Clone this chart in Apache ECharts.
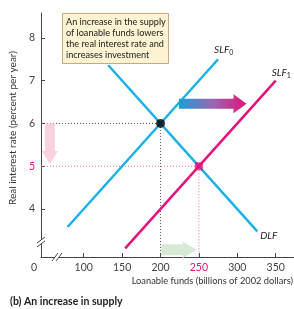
<!DOCTYPE html>
<html>
<head>
<meta charset="utf-8">
<script src="https://cdn.jsdelivr.net/npm/echarts@6/dist/echarts.min.js"></script>
<style>
  html, body { margin: 0; padding: 0; background: #fff; }
  #chart { width: 294px; height: 309px; }
</style>
</head>
<body>
<div id="chart"></div>
<script>
// axis ranges (the axis is broken near the origin)
var xMin = 44.4, xMax = 373.8;
var yMin = 2.88, yMax = 8.58;
var xTicks = [100, 150, 200, 250, 300, 350];
var yTicks = [4, 5, 6, 7, 8];

// curves: [quantity, rate] end points
var slf0X = [79, 275], slf0Y = [3.58, 7.5];
var slf1X = [154, 350], slf1Y = [3.08, 7.0];
var dlfX = [132, 326], dlfY = [7.36, 3.48];

// equilibrium before and after
var eq0 = [200, 6];
var eq1 = [250, 5];

var font = 'Lato, "Open Sans", sans-serif';
var blue = '#1bb0e6', magenta = '#e2127a', pinkDot = '#f06aa8';

function pts(xs, ys) {
    return xs.map(function (x, i) { return [x, ys[i]]; });
}

var chart = echarts.init(document.getElementById('chart'));

var option = {
    animation: false,
    title: {
        text: '(b) An increase in supply',
        left: 10, top: 296, padding: 0,
        textStyle: { fontFamily: font, fontSize: 10.5, fontWeight: 'bold', color: '#222' }
    },
    grid: { left: 41, top: 13, right: 0, bottom: 52 },
    xAxis: {
        type: 'value', min: xMin, max: xMax,
        splitLine: { show: false },
        axisLine: { lineStyle: { color: '#444', width: 1 } },
        axisTick: { inside: true, length: 4, customValues: xTicks, lineStyle: { color: '#444' } },
        axisLabel: {
            customValues: [xMin].concat(xTicks),
            margin: 5,
            fontFamily: font, fontSize: 10.5, color: '#444',
            formatter: function (v) {
                if (v < 50) return '{z|0}';
                if (v === eq1[0]) return '{p|' + v + '}';
                return v;
            },
            rich: {
                z: { fontFamily: font, fontSize: 10.5, color: '#444', padding: [0, 14, 0, 0] },
                p: { fontFamily: font, fontSize: 10.5, color: magenta }
            }
        }
    },
    yAxis: {
        type: 'value', min: yMin, max: yMax,
        splitLine: { show: false },
        axisLine: { show: true, lineStyle: { color: '#444', width: 1 } },
        axisTick: { show: true, inside: true, length: 4, customValues: yTicks, lineStyle: { color: '#444' } },
        axisLabel: {
            customValues: yTicks,
            margin: 6,
            fontFamily: font, fontSize: 10.5, color: '#444',
            formatter: function (v) {
                return v === eq1[1] ? '{p|' + v + '}' : v;
            },
            rich: { p: { fontFamily: font, fontSize: 10.5, color: magenta } }
        }
    },
    series: [
        {
            name: 'eq0 guide', type: 'line', symbol: 'none', z: 1,
            data: [[xMin, eq0[1]], eq0, [eq0[0], yMin]],
            lineStyle: { color: '#555', width: 1, type: [1, 2] }
        },
        {
            name: 'eq1 guide', type: 'line', symbol: 'none', z: 1,
            data: [[xMin, eq1[1]], eq1, [eq1[0], yMin]],
            lineStyle: { color: pinkDot, width: 1, type: [1, 2] }
        },
        {
            name: 'SLF0', type: 'line', symbol: 'none', z: 3,
            data: pts(slf0X, slf0Y),
            lineStyle: { color: blue, width: 2.5 }
        },
        {
            name: 'DLF', type: 'line', symbol: 'none', z: 3,
            data: pts(dlfX, dlfY),
            lineStyle: { color: blue, width: 2.5 }
        },
        {
            name: 'SLF1', type: 'line', symbol: 'none', z: 3,
            data: pts(slf1X, slf1Y),
            lineStyle: { color: magenta, width: 2.5 }
        },
        {
            name: 'eq0', type: 'scatter', symbol: 'circle', symbolSize: 9, z: 5,
            data: [eq0], itemStyle: { color: '#000' }
        },
        {
            name: 'eq1', type: 'scatter', symbol: 'rect', symbolSize: 8, z: 5,
            data: [eq1], itemStyle: { color: magenta }
        }
    ]
};
chart.setOption(option);

// annotations placed from data coordinates
function px(p) { return chart.convertToPixel({ gridIndex: 0 }, p); }

// arrow polygon from a to b (pixels)
function arrow(a, b, shaftW, headW, headL) {
    var dx = b[0] - a[0], dy = b[1] - a[1];
    var len = Math.sqrt(dx * dx + dy * dy);
    var ux = dx / len, uy = dy / len, nx = -uy, ny = ux;
    var hb = [b[0] - ux * headL, b[1] - uy * headL];
    function off(p, w) { return [p[0] + nx * w, p[1] + ny * w]; }
    return [off(a, shaftW / 2), off(hb, shaftW / 2), off(hb, headW / 2), b,
            off(hb, -headW / 2), off(hb, -shaftW / 2), off(a, -shaftW / 2)];
}

var slf0End = px([slf0X[1], slf0Y[1]]);
var slf1End = px([slf1X[1], slf1Y[1]]);
var dlfEnd = px([dlfX[1], dlfY[1]]);
var origin = px([xMin, yMin]);

var shiftA = px([224, 6.46]), shiftB = px([312, 6.46]);
var rateA = px([56, eq0[1]]), rateB = px([56, eq1[1] + 0.05]);
var qtyA = px([eq0[0] + 1, 3.05]), qtyB = px([eq1[0] - 3, 3.05]);

var brkY = origin[1] - 15, brkX = origin[0] + 16;

var lbl = function (x, y, base, sub) {
    return {
        type: 'text', x: x, y: y, z: 10,
        style: {
            text: sub != null ? '{i|' + base + '}{s|' + sub + '}' : '{i|' + base + '}',
            rich: {
                i: { fontFamily: font, fontSize: 10, fontStyle: 'italic', fill: '#222' },
                s: { fontFamily: font, fontSize: 7, fill: '#222', padding: [6, 0, 0, 0] }
            },
            align: 'left', verticalAlign: 'middle'
        }
    };
};

chart.setOption({
    graphic: [
        // explanatory box
        {
            type: 'rect', z: 10,
            shape: { x: 62.5, y: 13.5, width: 106, height: 50 },
            style: { fill: '#fdf2d2', stroke: '#c9aa78', lineWidth: 1 }
        },
        {
            type: 'text', z: 11, x: 66, y: 16,
            style: {
                text: 'An increase in the supply\nof loanable funds lowers\nthe real interest rate and\nincreases investment',
                fontFamily: font, fontSize: 9.1, lineHeight: 11.3, fill: '#222'
            }
        },
        // curve labels
        lbl(slf0End[0] - 4, slf0End[1] - 9, 'SLF', '0'),
        lbl(slf1End[0] - 4, slf1End[1] - 8, 'SLF', '1'),
        lbl(dlfEnd[0] + 3, dlfEnd[1] + 4, 'DLF'),
        // arrows
        {
            type: 'polygon', z: 4,
            shape: { points: arrow(shiftA, shiftB, 10, 19, 13) },
            style: {
                fill: {
                    type: 'linear', x: 0, y: 0, x2: 1, y2: 0,
                    colorStops: [
                        { offset: 0, color: '#1a9fd8' },
                        { offset: 0.5, color: '#9a66b4' },
                        { offset: 1, color: '#e2127a' }
                    ]
                }
            }
        },
        {
            type: 'polygon', z: 4,
            shape: { points: arrow(rateA, rateB, 10, 16, 13) },
            style: { fill: '#fad2de' }
        },
        {
            type: 'polygon', z: 4,
            shape: { points: arrow(qtyA, qtyB, 11, 17, 14) },
            style: { fill: '#d6ead6' }
        },
        // axis breaks
        { type: 'rect', z: 6, shape: { x: origin[0] - 3, y: brkY - 2, width: 6, height: 4 }, style: { fill: '#fff' } },
        { type: 'line', z: 7, shape: { x1: origin[0] - 4, y1: brkY + 1, x2: origin[0] + 4, y2: brkY - 5 }, style: { stroke: '#444', lineWidth: 1 } },
        { type: 'line', z: 7, shape: { x1: origin[0] - 4, y1: brkY + 5, x2: origin[0] + 4, y2: brkY - 1 }, style: { stroke: '#444', lineWidth: 1 } },
        { type: 'rect', z: 6, shape: { x: brkX - 2, y: origin[1] - 3, width: 4, height: 6 }, style: { fill: '#fff' } },
        { type: 'line', z: 7, shape: { x1: brkX - 5, y1: origin[1] + 4, x2: brkX + 1, y2: origin[1] - 4 }, style: { stroke: '#444', lineWidth: 1 } },
        { type: 'line', z: 7, shape: { x1: brkX - 1, y1: origin[1] + 4, x2: brkX + 5, y2: origin[1] - 4 }, style: { stroke: '#444', lineWidth: 1 } },
        // axis names
        {
            type: 'text', z: 10, x: 13, y: 128, rotation: Math.PI / 2,
            style: {
                text: 'Real interest rate (percent per year)',
                fontFamily: font, fontSize: 10, fill: '#333',
                align: 'center', verticalAlign: 'middle'
            }
        },
        {
            type: 'text', z: 10, x: 293, y: 281,
            style: {
                text: 'Loanable funds (billions of 2002 dollars)',
                fontFamily: font, fontSize: 9.3, fill: '#333',
                align: 'right', verticalAlign: 'middle'
            }
        }
    ]
});
</script>
</body>
</html>
